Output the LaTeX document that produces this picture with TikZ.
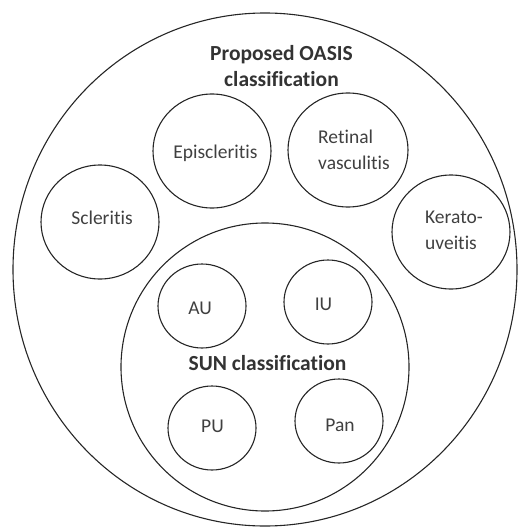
\documentclass[tikz,border=0pt]{standalone}
\usepackage{fontspec}
\setmainfont[Ligatures=NoCommon]{Carlito}
\begin{document}
\begin{tikzpicture}[x=1pt,y=-1pt,
  ring/.style={draw=black!85,line width=1.1pt},
  lbl/.style={font=\fontsize{19.5}{26}\selectfont,text=black!75,align=center,inner sep=0pt},
  lbll/.style={lbl,align=left},
  ttl/.style={font=\bfseries\fontsize{21.5}{26}\selectfont,text=black!80,align=center,inner sep=0pt}]
\useasboundingbox (0,0) rectangle (527,527);
\draw[ring] (265,269.5) ellipse (252 and 256.5);
\draw[ring] (265,367) circle (144);
\draw[ring] (212,151) ellipse (59 and 57);
\draw[ring] (348,150) ellipse (60 and 57);
\draw[ring] (100,222) ellipse (59 and 57);
\draw[ring] (451,232) ellipse (59 and 57);
\draw[ring] (202,306) ellipse (44 and 42);
\draw[ring] (328,302) ellipse (44 and 42);
\draw[ring] (212,428) ellipse (44 and 42);
\draw[ring] (339,421) ellipse (44 and 42);
\node[ttl] (oasis) at (281.5,66.5) {Proposed OASIS\\classification};
\node[ttl] (sun) at (267.5,363.5) {SUN classification};
\node[lbl] (epi) at (215.5,153) {Episcleritis};
\node[lbll] (ret) at (354,149.5) {Retinal\\vasculitis};
\node[lbl] (scl) at (102,218) {Scleritis};
\node[lbll] (ker) at (454,230.5) {Kerato-\\uveitis};
\node[lbl] (au) at (200,308) {AU};
\node[lbl] (iu) at (323.5,304) {IU};
\node[lbl] (pu) at (212.5,426) {PU};
\node[lbl] (pan) at (340,425) {Pan};
\end{tikzpicture}
\end{document}
